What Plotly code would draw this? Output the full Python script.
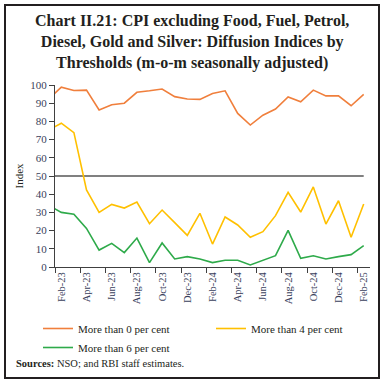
import plotly.graph_objects as go

# Month index: 0 = Jan-23 (partially clipped at axis), 1 = Feb-23 ... 25 = Feb-25
months = ["Jan-23", "Feb-23", "Mar-23", "Apr-23", "May-23", "Jun-23", "Jul-23", "Aug-23",
          "Sep-23", "Oct-23", "Nov-23", "Dec-23", "Jan-24", "Feb-24", "Mar-24", "Apr-24",
          "May-24", "Jun-24", "Jul-24", "Aug-24", "Sep-24", "Oct-24", "Nov-24", "Dec-24",
          "Jan-25", "Feb-25"]

more_than_0 = [92.2, 98.8, 97.0, 97.2, 86.3, 89.2, 90.0, 96.0, 96.8, 97.8, 93.6, 92.3,
               92.1, 95.3, 96.8, 84.4, 78.0, 83.4, 86.8, 93.4, 90.8, 97.2, 94.0, 94.0,
               88.6, 94.8]
more_than_4 = [75.2, 79.0, 73.8, 42.3, 30.0, 34.4, 32.4, 35.7, 23.8, 31.3, 24.4, 17.4,
               29.5, 12.6, 27.5, 23.1, 16.3, 19.4, 28.2, 41.0, 30.2, 44.0, 23.6, 36.4,
               16.3, 34.6]
more_than_6 = [33.8, 30.0, 29.0, 21.2, 9.3, 13.0, 7.9, 15.9, 2.4, 13.2, 4.4, 5.7,
               4.4, 2.4, 3.7, 3.7, 1.1, 3.7, 6.2, 20.1, 4.8, 6.2, 4.4, 5.7,
               6.8, 11.7]
threshold = [50] * len(months)

tick_labels = months[1::2]

idx = list(range(len(months)))
tick_pos = idx[1::2]
boundary_pos = [p - 0.5 for p in tick_pos]

SERIF = "Liberation Serif"
TXT = "#231F20"
TICKC = "#3A3F5C"

fig = go.Figure()
fig.add_trace(go.Scatter(x=idx, y=threshold, mode="lines", line=dict(color="#808080", width=2.2),
                         showlegend=False, hoverinfo="skip"))
fig.add_trace(go.Scatter(x=idx, y=more_than_0, mode="lines", name="More than 0 per cent",
                         line=dict(color="#F07F3C", width=1.6)))
fig.add_trace(go.Scatter(x=idx, y=more_than_4, mode="lines", name="More than 4 per cent",
                         line=dict(color="#FFC000", width=1.6)))
fig.add_trace(go.Scatter(x=idx, y=more_than_6, mode="lines", name="More than 6 per cent",
                         line=dict(color="#2EAA4A", width=1.6)))
# dummy trace to activate xaxis2 for boundary tick marks
fig.add_trace(go.Scatter(x=[None], y=[None], xaxis="x2", showlegend=False, hoverinfo="skip"))

L, R, T, B = 55, 14, 85, 118
W, H = 384, 385
pw, ph = W - L - R, H - T - B


def px(x):
    return (x - L) / pw


def py(y):
    return (H - B - y) / ph


fig.update_layout(
    width=W, height=H,
    margin=dict(l=L, r=R, t=T, b=B),
    paper_bgcolor="white", plot_bgcolor="white",
    font=dict(family=SERIF, color=TXT, size=11),
    xaxis=dict(
        range=[0.5, 25.5], tickmode="array", tickvals=tick_pos, ticktext=tick_labels,
        tickangle=-90, ticks="", showgrid=False, zeroline=False,
        showline=True, linecolor="#404040", linewidth=1,
        tickfont=dict(family=SERIF, size=10.5, color=TICKC),
    ),
    xaxis2=dict(
        range=[0.5, 25.5], overlaying="x", anchor="y", side="bottom", tickmode="array",
        tickvals=boundary_pos, ticktext=[""] * len(boundary_pos), ticks="outside",
        ticklen=5, tickcolor="#404040", showgrid=False, zeroline=False, showline=False,
    ),
    yaxis=dict(
        range=[0, 100], dtick=10, ticks="outside", ticklen=5, tickcolor="#404040",
        showgrid=False, zeroline=False, showline=True, linecolor="#404040", linewidth=1,
        tickfont=dict(family=SERIF, size=11, color=TICKC),
        title=dict(text="Index", font=dict(family=SERIF, size=11, color=TXT), standoff=4),
    ),
    legend=dict(
        orientation="h", x=px(38), xanchor="left", y=py(314), yanchor="top",
        entrywidth=128, entrywidthmode="pixels", font=dict(family=SERIF, size=11, color=TXT),
        bgcolor="rgba(0,0,0,0)", tracegroupgap=0,
    ),
    showlegend=True,
)

fig.add_annotation(
    text="<b>Chart II.21: CPI excluding Food, Fuel, Petrol,<br>Diesel, Gold and Silver: Diffusion Indices by<br>Thresholds (m-o-m seasonally adjusted)</b>",
    xref="paper", yref="paper", x=px(192), y=py(10), xanchor="center", yanchor="top",
    showarrow=False, align="center", font=dict(family=SERIF, size=16, color=TXT),
)

fig.add_annotation(
    text="<b>Sources:</b> NSO; and RBI staff estimates.", xref="paper", yref="paper",
    x=px(14), y=py(363), xanchor="left", yanchor="middle", showarrow=False,
    font=dict(family=SERIF, size=10.5, color=TXT),
)

fig.add_shape(
    type="rect", xref="paper", yref="paper",
    x0=px(5), x1=px(379), y0=py(378), y1=py(5),
    line=dict(color="#231F20", width=2), fillcolor="rgba(0,0,0,0)", layer="above",
)

fig.write_html("out.html", config={"displayModeBar": False},
               post_script="document.body.style.margin='0px';")
